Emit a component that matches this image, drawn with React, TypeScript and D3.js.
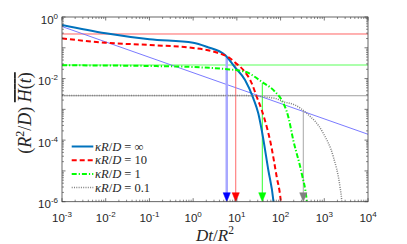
import React from "react";
import * as d3 from "d3";

const W = 407;
const H = 244;

// kappa R / D = infinity
const tInf = [1e-3, 0.01, 0.1, 1, 2.04, 5.36, 9.07, 15.4, 23.8, 30.9, 37.0, 52.4, 68.2, 72];
const hInf = [0.55, 0.295, 0.1886, 0.146, 0.108, 0.0583, 0.0232, 0.00898, 0.00228, 7.43e-4, 2.13e-4, 1.07e-5, 1.13e-6, 5e-7];
// kappa R / D = 10
const t10 = [1e-3, 0.00964, 0.103, 1, 3.46, 6.97, 9.07, 14.0, 21.9, 28.5, 37.0, 48.2, 57.3, 81.5, 100.6, 106];
const h10 = [0.203, 0.146, 0.123, 0.0984, 0.0703, 0.0455, 0.0333, 0.019, 0.00702, 0.00257, 9.52e-4, 2.73e-4, 1.01e-4, 6.48e-6, 1.13e-6, 5e-7];
// kappa R / D = 1
const t1 = [1e-3, 0.103, 1.44, 5.36, 15.4, 37.0, 74.6, 106, 150, 195, 304, 396, 420];
const h1 = [0.027, 0.0256, 0.0232, 0.0205, 0.0167, 0.0079, 0.00374, 0.00201, 5.77e-4, 1.01e-4, 8.36e-6, 1.13e-6, 5e-7];
// kappa R / D = 0.1
const t01 = [1e-3, 11.8, 74.6, 115, 214, 396, 948, 1607, 2285, 2500, 2600];
const h01 = [0.00282, 0.00282, 0.00228, 0.00177, 0.00138, 7.43e-4, 1.67e-4, 2.89e-5, 3.07e-6, 1.13e-6, 5e-7];

// short-time asymptote
const asymT = [1e-3, 1e4];
const asymH = [0.49, 1.55e-4];

// plateau levels (10, 1, 0.1)
const plateauH = [0.2805, 0.0276, 0.00277];

// characteristic times (inf, 10, 1, 0.1)
const markerT = [5.87, 9.43, 38.2, 331];
const markerTopH = [0.051, 0.0343, 0.00718, 9.03e-4];

const legendLabels = ["∞", "10", "1", "0.1"];
const xTickExp = [-3, -2, -1, 0, 1, 2, 3, 4];
const yTickExp = [-6, -4, -2, 0];

const L = 62, R = 368, T = 17, B = 201.7;

export default function App() {
  const x = d3.scaleLog().domain([1e-3, 1e4]).range([L, R]);
  const y = d3.scaleLog().domain([1e-6, 1]).range([B, T]);

  const line = d3
    .line<[number, number]>()
    .x((d) => x(d[0]))
    .y((d) => y(d[1]))
    .curve(d3.curveMonotoneX);

  const zip = (a: number[], b: number[]) => a.map((v, i) => [v, b[i]] as [number, number]);

  const series = [
    { d: zip(tInf, hInf), color: "#0072BD", w: 2, dash: undefined as string | undefined },
    { d: zip(t10, h10), color: "#FF0000", w: 2, dash: "5,3" },
    { d: zip(t1, h1), color: "#00FF00", w: 2, dash: "5,2,1.2,2" },
    { d: zip(t01, h01), color: "#808080", w: 1.5, dash: "1,1.3" },
  ];

  const plateauColors = ["#ff6464", "#90ff90", "#a0a0a0"];
  const plateauW = [1, 1.5, 1];
  const markerLineColors = ["#a8a8ff", "#ff6a6a", "#30ff30", "#a8a8a8"];
  const markerLineW = [2.5, 1, 1, 1];
  const markerColors = ["#0000FF", "#FF0000", "#00FF00", "#808080"];

  const xMinor: number[] = [];
  for (let e = -3; e < 4; e++) for (let k = 2; k <= 9; k++) xMinor.push(k * Math.pow(10, e));
  const yMinor: number[] = [];
  for (let e = -6; e < 0; e++) for (let k = 2; k <= 9; k++) yMinor.push(k * Math.pow(10, e));

  const axisColor = "#404040";
  const maj = 3.5, mnr = 2;

  return (
    <svg width={W} height={H} style={{ position: "absolute", left: 0, top: 0, background: "#fff" }}>
      <defs>
        <clipPath id="plot">
          <rect x={L} y={T} width={R - L} height={B - T} />
        </clipPath>
      </defs>
      <rect x={0} y={0} width={W} height={H} fill="#fff" />
      <g clipPath="url(#plot)">
        {plateauH.map((h, i) => (
          <line key={"p" + i} x1={L} x2={R} y1={y(h)} y2={y(h)} stroke={plateauColors[i]} strokeWidth={plateauW[i]} />
        ))}
        <path d={line(zip(asymT, asymH)) || ""} fill="none" stroke="#6b6bff" strokeWidth={0.9} />
        {markerT.map((t, i) => (
          <line key={"v" + i} x1={x(t)} x2={x(t)} y1={y(markerTopH[i])} y2={B - 6} stroke={markerLineColors[i]} strokeWidth={markerLineW[i]} />
        ))}
        {series.map((s, i) => (
          <path key={"s" + i} d={line(s.d) || ""} fill="none" stroke={s.color} strokeWidth={s.w} strokeDasharray={s.dash} />
        ))}
        {markerT.map((t, i) => (
          <path
            key={"m" + i}
            d={`M${x(t) - 3.6},${B - 9} L${x(t) + 3.6},${B - 9} L${x(t)},${B} Z`}
            fill={markerColors[i]}
            stroke={markerColors[i]}
            strokeWidth={0.5}
          />
        ))}
      </g>
      {/* axes box */}
      <rect x={L} y={T} width={R - L} height={B - T} fill="none" stroke={axisColor} strokeWidth={0.8} />
      {xTickExp.map((e) => {
        const px = x(Math.pow(10, e));
        return (
          <g key={"xt" + e}>
            <line x1={px} x2={px} y1={B} y2={B - maj} stroke={axisColor} strokeWidth={0.7} />
            <line x1={px} x2={px} y1={T} y2={T + maj} stroke={axisColor} strokeWidth={0.7} />
          </g>
        );
      })}
      {xMinor.map((v, i) => {
        const px = x(v);
        return (
          <g key={"xm" + i}>
            <line x1={px} x2={px} y1={B} y2={B - mnr} stroke={axisColor} strokeWidth={0.6} />
            <line x1={px} x2={px} y1={T} y2={T + mnr} stroke={axisColor} strokeWidth={0.6} />
          </g>
        );
      })}
      {yTickExp.concat([-5, -3, -1]).map((e) => {
        const py = y(Math.pow(10, e));
        return (
          <g key={"yt" + e}>
            <line x1={L} x2={L + maj} y1={py} y2={py} stroke={axisColor} strokeWidth={0.7} />
            <line x1={R} x2={R - maj} y1={py} y2={py} stroke={axisColor} strokeWidth={0.7} />
          </g>
        );
      })}
      {yMinor.map((v, i) => {
        const py = y(v);
        return (
          <g key={"ym" + i}>
            <line x1={L} x2={L + mnr} y1={py} y2={py} stroke={axisColor} strokeWidth={0.6} />
            <line x1={R} x2={R - mnr} y1={py} y2={py} stroke={axisColor} strokeWidth={0.6} />
          </g>
        );
      })}
      {/* x tick labels */}
      {xTickExp.map((e) => (
        <text key={"xl" + e} x={x(Math.pow(10, e))} y={222} textAnchor="middle" fontFamily="Liberation Sans, Arial, sans-serif" fontSize={11.5} fill="#262626">
          10<tspan dy={-5} fontSize={8}>{e}</tspan>
        </text>
      ))}
      {/* y tick labels */}
      {yTickExp.map((e) => (
        <text key={"yl" + e} x={58} y={y(Math.pow(10, e)) + 6.5} textAnchor="end" fontFamily="Liberation Sans, Arial, sans-serif" fontSize={11.5} fill="#262626">
          10<tspan dy={-5} fontSize={8}>{e}</tspan>
        </text>
      ))}
      {/* x label */}
      <text x={(L + R) / 2} y={240.5} textAnchor="middle" fontFamily="Liberation Serif, serif" fontSize={17} fill="#262626">
        <tspan fontStyle="italic">Dt</tspan>
        <tspan>/</tspan>
        <tspan fontStyle="italic">R</tspan>
        <tspan dy={-6.5} fontSize={11.5}>2</tspan>
      </text>
      {/* y label */}
      <text transform={`translate(31,113) rotate(-90)`} textAnchor="middle" fontFamily="Liberation Serif, serif" fontSize={18} fill="#262626">
        <tspan>(</tspan>
        <tspan fontStyle="italic">R</tspan>
        <tspan dy={-7} fontSize={12}>2</tspan>
        <tspan dy={7}>/</tspan>
        <tspan fontStyle="italic">D</tspan>
        <tspan>) </tspan>
        <tspan textDecoration="overline" style={{ textDecoration: "overline" }}>
          <tspan fontStyle="italic">H</tspan>(<tspan fontStyle="italic">t</tspan>)
        </tspan>
      </text>
      {/* legend */}
      {series.map((s, i) => {
        const ly = 146.5 + i * 13.7;
        return (
          <g key={"lg" + i}>
            <line x1={71.7} x2={93.3} y1={ly} y2={ly} stroke={s.color} strokeWidth={s.w} strokeDasharray={s.dash} />
            <text x={95} y={ly + 4} fontFamily="Liberation Serif, serif" fontSize={12.5} fill="#262626">
              <tspan fontStyle="italic">κR</tspan>
              <tspan>/</tspan>
              <tspan fontStyle="italic">D</tspan>
              <tspan> = {legendLabels[i]}</tspan>
            </text>
          </g>
        );
      })}
    </svg>
  );
}
